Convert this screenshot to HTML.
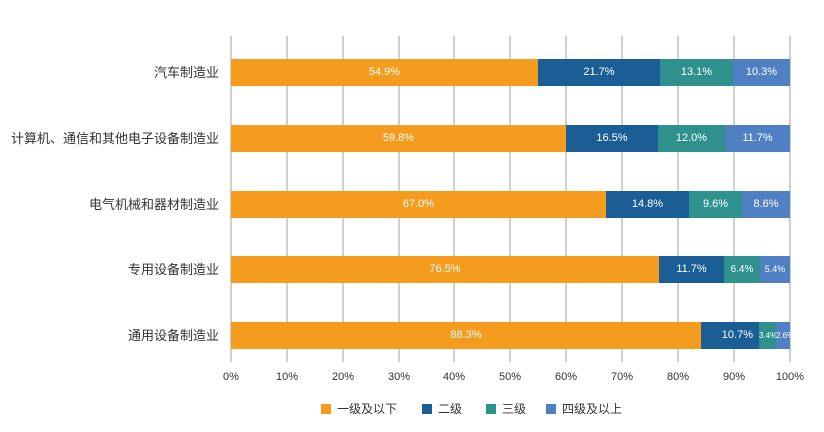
<!DOCTYPE html><html><head><meta charset="utf-8"><style>
body{margin:0;width:824px;height:432px;background:#fff;font-family:"Liberation Sans","Noto Sans CJK SC",sans-serif;position:relative;overflow:hidden}
.g{position:absolute;top:36px;height:326px;width:2px;background:#d0d0d0}
.b{position:absolute;height:27px;color:#fff;font-size:11px;line-height:27px;text-align:center;white-space:nowrap;overflow:hidden}
.o{background:#F59C1E}.d{background:#1B5E96}.t{background:#2E918E}.l{background:#5080C4}
.c{position:absolute;right:605px;font-size:13px;color:#333;line-height:27px;white-space:nowrap}
.x{position:absolute;top:371px;font-size:11px;color:#333;width:40px;text-align:center}
.lg{position:absolute;top:403px;font-size:12px;color:#333;line-height:12px}
.lg i{display:inline-block;width:10px;height:10px;vertical-align:-1px;margin-right:6px}
</style></head><body>
<div class="g" style="left:230px"></div><div class="g" style="left:286px"></div><div class="g" style="left:342px"></div><div class="g" style="left:398px"></div><div class="g" style="left:453px"></div><div class="g" style="left:509px"></div><div class="g" style="left:565px"></div><div class="g" style="left:621px"></div><div class="g" style="left:677px"></div><div class="g" style="left:733px"></div><div class="g" style="left:789px"></div>

<div class="c" style="top:59px">汽车制造业</div>
<div class="b o" style="top:59px;left:231px;width:307px">54.9%</div><div class="b d" style="top:59px;left:538px;width:122px">21.7%</div><div class="b t" style="top:59px;left:660px;width:73px">13.1%</div><div class="b l" style="top:59px;left:733px;width:57px">10.3%</div>

<div class="c" style="top:125px">计算机、通信和其他电子设备制造业</div>
<div class="b o" style="top:125px;left:231px;width:335px">59.8%</div><div class="b d" style="top:125px;left:566px;width:92px">16.5%</div><div class="b t" style="top:125px;left:658px;width:67px">12.0%</div><div class="b l" style="top:125px;left:725px;width:65px">11.7%</div>

<div class="c" style="top:191px">电气机械和器材制造业</div>
<div class="b o" style="top:191px;left:231px;width:375px">67.0%</div><div class="b d" style="top:191px;left:606px;width:83px">14.8%</div><div class="b t" style="top:191px;left:689px;width:53px">9.6%</div><div class="b l" style="top:191px;left:742px;width:48px">8.6%</div>

<div class="c" style="top:256px">专用设备制造业</div>
<div class="b o" style="top:256px;left:231px;width:428px">76.5%</div><div class="b d" style="top:256px;left:659px;width:65px">11.7%</div><div class="b t" style="top:256px;left:724px;width:36px;font-size:10px">6.4%</div><div class="b l" style="top:256px;left:760px;width:30px;font-size:9px">5.4%</div>

<div class="c" style="top:322px">通用设备制造业</div>
<div class="b o" style="top:322px;left:231px;width:470px">88.3%</div><div class="b d" style="top:322px;left:701px;width:58px;text-align:right"><span style="margin-right:6px">10.7%</span></div><div class="b t" style="top:322px;left:759px;width:17px;font-size:8px">3.4%</div><div class="b l" style="top:322px;left:776px;width:14px;font-size:8px">2.6%</div>

<div class="x" style="left:211px">0%</div><div class="x" style="left:267px">10%</div><div class="x" style="left:323px">20%</div><div class="x" style="left:379px">30%</div><div class="x" style="left:434px">40%</div><div class="x" style="left:490px">50%</div><div class="x" style="left:546px">60%</div><div class="x" style="left:602px">70%</div><div class="x" style="left:658px">80%</div><div class="x" style="left:714px">90%</div><div class="x" style="left:770px">100%</div>

<div class="lg" style="left:321px"><i class="o"></i>一级及以下</div>
<div class="lg" style="left:422px"><i class="d"></i>二级</div>
<div class="lg" style="left:486px"><i class="t"></i>三级</div>
<div class="lg" style="left:546px"><i class="l"></i>四级及以上</div>
</body></html>
